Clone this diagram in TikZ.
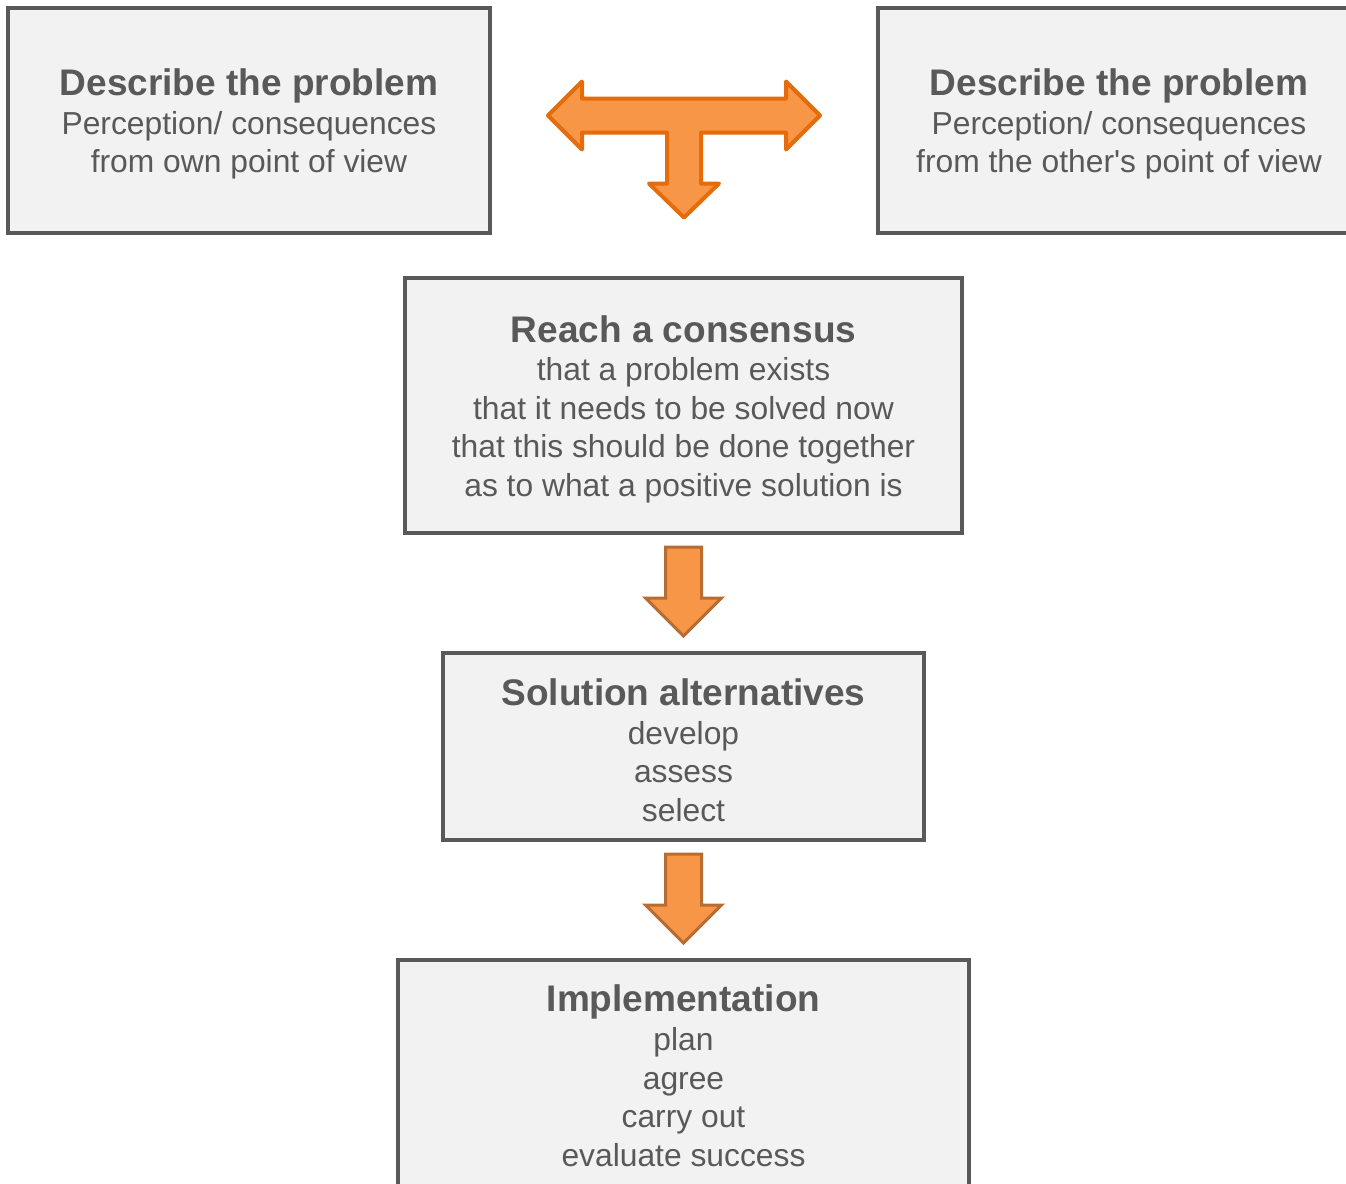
\documentclass[tikz,border=0pt]{standalone}
\usepackage{fontspec}
\setmainfont{Liberation Sans}
\usetikzlibrary{positioning}
\usetikzlibrary{calc}

\definecolor{boxgray}{HTML}{F2F2F2}
\definecolor{textgray}{HTML}{595959}
\definecolor{arrowfill}{HTML}{F79646}
\definecolor{arrowedge}{HTML}{E46C0A}
\definecolor{arrowbrown}{RGB}{183,108,50}

\newcommand{\boxtitle}[1]{{\fontsize{18.5}{20}\selectfont\bfseries\rule{0pt}{17pt}#1}}

\tikzset{
  stepbox/.style={draw=textgray, fill=boxgray, line width=2pt, text=textgray,
    align=center, inner sep=0pt, outer sep=0pt, font=\fontsize{15.9}{19.3}\selectfont},
  teearrow/.style={fill=arrowfill, draw=arrowedge, line width=2pt, line join=round},
  downarrow/.style={fill=arrowfill, draw=arrowbrown, line width=1.5pt},
}

\begin{document}
\begin{tikzpicture}[x=0.5pt, y=-0.5pt]
    \clip (0,0) rectangle (1346,1184);

    % the two points of view
    \node [stepbox, minimum width=241pt, minimum height=112.5pt] (ownview) at (249,120.5)
      {\boxtitle{Describe the problem}\\ Perception/ consequences\\ from own point of view};
    \node [stepbox, minimum width=241pt, minimum height=112.5pt] (otherview) at (1119,120.5)
      {\boxtitle{Describe the problem}\\ Perception/ consequences\\ from the other\textquotesingle s point of view};

    % the chain below
    \node [stepbox, minimum width=278.5pt, minimum height=127.5pt] (consensus) at (683.5,405.5)
      {\boxtitle{Reach a consensus}\\ that a problem exists\\ that it needs to be solved now\\
       that this should be done together\\ as to what a positive solution is};
    \node [stepbox, minimum width=240.5pt, minimum height=93.5pt, below=60pt of consensus] (solutions)
      {\boxtitle{Solution alternatives}\\ develop\\ assess\\ select};
    % runs past the bottom edge, so the text is kept up with a deep strut
    \node [stepbox, minimum width=285.5pt, minimum height=132pt, below=60pt of solutions] (impl)
      {\boxtitle{Implementation}\\ plan\\ agree\\ carry out\\ evaluate success\rule[-20pt]{0pt}{20pt}};

    % T-shaped arrow between the two views
    \coordinate (tee) at ($(ownview.east)!0.5!(otherview.west)+(0,-5)$);
    \draw [teearrow, shift={(tee)}]
      (-136,0) -- (-102,-34) -- (-102,-17) -- (102,-17) -- (102,-34) -- (136,0)
      -- (102,34) -- (102,17) -- (17,17) -- (17,68) -- (35,68) -- (0,102)
      -- (-35,68) -- (-17,68) -- (-17,17) -- (-102,17) -- (-102,34) -- cycle;

    % down arrows
    \foreach \from in {consensus, solutions} {
      \draw [downarrow, shift={(\from.south)}]
        (-18,14) -- (18,14) -- (18,65) -- (38,65) -- (0,103) -- (-38,65) -- (-18,65) -- cycle;
    }
\end{tikzpicture}
\end{document}
